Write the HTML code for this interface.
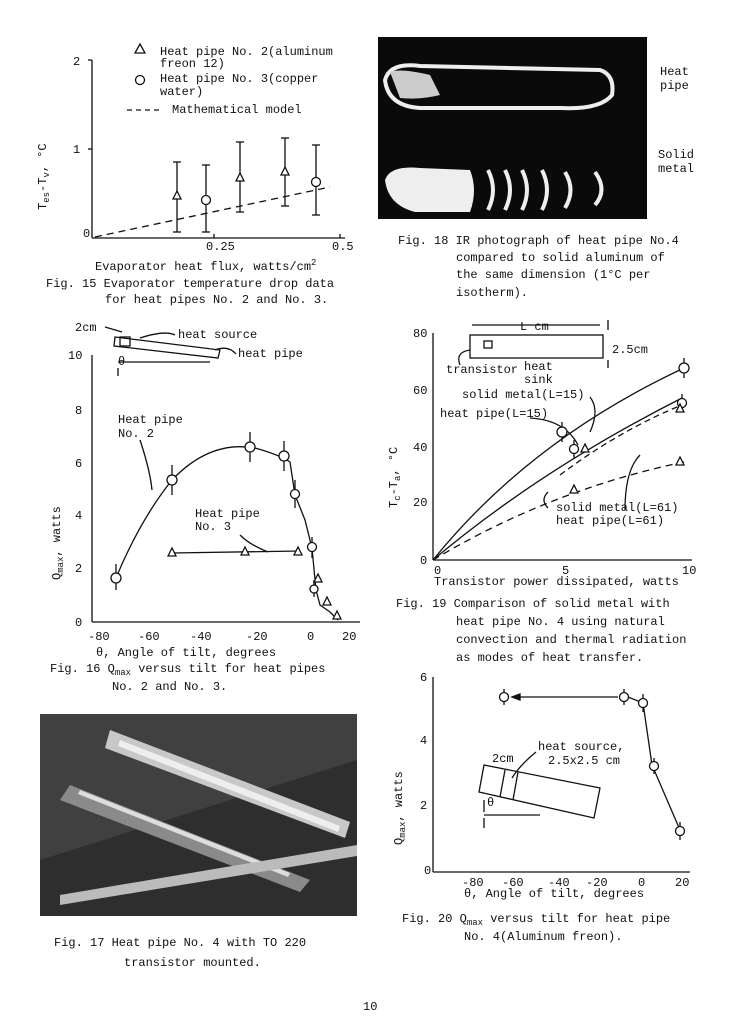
<!DOCTYPE html>
<html><head><meta charset="utf-8"><style>
html,body{margin:0;padding:0;background:#fff;}
svg{display:block}
text{font-family:"Liberation Mono",monospace;font-size:12px;fill:#111}
.s{font-size:9px}
</style></head><body>
<svg width="734" height="1028" viewBox="0 0 734 1028" xmlns="http://www.w3.org/2000/svg" stroke="#111" fill="none" stroke-width="1.3">
<!-- ===== Fig 15 ===== -->
<g>
<line x1="92" y1="60" x2="92" y2="238"/><line x1="92" y1="238" x2="345" y2="238"/>
<line x1="88" y1="60" x2="92" y2="60"/><line x1="88" y1="149" x2="92" y2="149"/>
<line x1="214" y1="238" x2="214" y2="234"/><line x1="340" y1="238" x2="340" y2="234"/>
<g stroke="none"><text x="73" y="65">2</text><text x="73" y="153">1</text><text x="83" y="237">0</text>
<text x="206" y="250">0.25</text><text x="332" y="250">0.5</text>
<text x="46" y="210" transform="rotate(-90 46 210)">T<tspan class="s" dy="3">es</tspan><tspan dy="-3">-T</tspan><tspan class="s" dy="3">v</tspan><tspan dy="-3">, °C</tspan></text>
<text x="95" y="270">Evaporator heat flux, watts/cm<tspan class="s" dy="-5">2</tspan></text>
<text x="46" y="287">Fig. 15 Evaporator temperature drop data</text>
<text x="105" y="303">for heat pipes No. 2 and No. 3.</text>
<text x="160" y="55">Heat pipe No. 2(aluminum</text><text x="160" y="67">freon 12)</text>
<text x="160" y="82">Heat pipe No. 3(copper</text><text x="160" y="95">water)</text>
<text x="172" y="113">Mathematical model</text></g>
<polygon points="140,44 135,53 145,53"/><circle cx="140" cy="80" r="4.5"/>
<line x1="127" y1="110" x2="160" y2="110" stroke-dasharray="5,4"/>
<line x1="95" y1="237" x2="330" y2="187" stroke-dasharray="7,5"/>
<g>
<line x1="177" y1="162" x2="177" y2="232"/><line x1="173" y1="162" x2="181" y2="162"/><line x1="173" y1="232" x2="181" y2="232"/><polygon points="177,191 173,199 181,199" fill="#fff"/>
<line x1="206" y1="165" x2="206" y2="232"/><line x1="202" y1="165" x2="210" y2="165"/><line x1="202" y1="232" x2="210" y2="232"/><circle cx="206" cy="200" r="4.5" fill="#fff"/>
<line x1="240" y1="142" x2="240" y2="212"/><line x1="236" y1="142" x2="244" y2="142"/><line x1="236" y1="212" x2="244" y2="212"/><polygon points="240,173 236,181 244,181" fill="#fff"/>
<line x1="285" y1="138" x2="285" y2="206"/><line x1="281" y1="138" x2="289" y2="138"/><line x1="281" y1="206" x2="289" y2="206"/><polygon points="285,167 281,175 289,175" fill="#fff"/>
<line x1="316" y1="145" x2="316" y2="215"/><line x1="312" y1="145" x2="320" y2="145"/><line x1="312" y1="215" x2="320" y2="215"/><circle cx="316" cy="182" r="4.5" fill="#fff"/>
</g></g>

<!-- ===== Fig 18 photo ===== -->
<rect x="378" y="37" width="269" height="182" fill="#0a0a0a" stroke="none"/>
<path d="M385,80 Q390,62 420,66 L600,70 Q615,75 612,95 Q600,110 560,108 L420,108 Q388,106 385,80Z" stroke="#eee" stroke-width="4"/>
<path d="M390,72 Q400,68 430,75 L440,95 Q420,100 400,98Z" fill="#ccc" stroke="none"/>
<path d="M385,180 Q390,165 420,168 L470,170 Q478,190 470,212 L415,212 Q388,205 385,180Z" fill="#eee" stroke="none"/>
<g stroke="#eee" stroke-width="4"><path d="M488,170 Q498,190 488,210"/><path d="M505,170 Q515,190 505,210"/><path d="M522,170 Q532,190 522,210"/><path d="M542,170 Q552,190 542,210"/><path d="M565,172 Q576,190 565,208"/><path d="M595,172 Q608,190 595,205"/></g>
<g stroke="none">
<text x="660" y="75">Heat</text><text x="660" y="89">pipe</text>
<text x="658" y="158">Solid</text><text x="658" y="172">metal</text>
<text x="398" y="244">Fig. 18 IR photograph of heat pipe No.4</text>
<text x="456" y="261">compared to solid aluminum of</text>
<text x="456" y="278">the same dimension (1°C per</text>
<text x="456" y="296">isotherm).</text>
</g>

<!-- ===== Fig 16 ===== -->
<g>
<line x1="92" y1="355" x2="92" y2="622"/><line x1="92" y1="622" x2="360" y2="622"/>
<g stroke="none"><text x="68" y="359">10</text><text x="75" y="414">8</text><text x="75" y="467">6</text><text x="75" y="519">4</text><text x="75" y="572">2</text><text x="75" y="626">0</text>
<text x="88" y="640">-80</text><text x="138" y="640">-60</text><text x="190" y="640">-40</text><text x="246" y="640">-20</text><text x="307" y="640">0</text><text x="342" y="640">20</text>
<text x="96" y="656">θ, Angle of tilt, degrees</text>
<text x="50" y="672">Fig. 16 Q<tspan class="s" dy="3">max</tspan><tspan dy="-3"> versus tilt for heat pipes</tspan></text>
<text x="112" y="690">No. 2 and No. 3.</text>
<text x="60" y="580" transform="rotate(-90 60 580)">Q<tspan class="s" dy="3">max</tspan><tspan dy="-3">, watts</tspan></text>
<text x="118" y="423">Heat pipe</text><text x="118" y="437">No. 2</text>
<text x="195" y="517">Heat pipe</text><text x="195" y="530">No. 3</text>
<text x="75" y="331">2cm</text><text x="178" y="338">heat source</text><text x="238" y="357">heat pipe</text><text x="118" y="365">θ</text>
</g>
<polygon points="115,337 220,350 218,358 114,346"/><rect x="120" y="337" width="10" height="9"/>
<line x1="118" y1="362" x2="210" y2="362"/><line x1="118" y1="368" x2="118" y2="376"/>
<path d="M105,327 L122,332"/><path d="M175,335 Q165,330 140,338"/><path d="M236,354 Q228,345 215,350"/>
<path d="M140,440 Q150,470 152,490"/><path d="M240,535 Q250,545 268,552"/>
<path d="M116,578 Q140,520 172,480 Q210,440 255,448 Q280,455 290,462 L295,495 L305,520 L312,548 L316,590 L320,605 L330,612 L338,620"/>
<line x1="171" y1="553" x2="300" y2="551"/>
<g fill="#fff">
<line x1="116" y1="564" x2="116" y2="590"/><circle cx="116" cy="578" r="5"/>
<line x1="172" y1="465" x2="172" y2="495"/><circle cx="172" cy="480" r="5"/>
<line x1="250" y1="432" x2="250" y2="462"/><circle cx="250" cy="447" r="5"/>
<line x1="284" y1="441" x2="284" y2="471"/><circle cx="284" cy="456" r="5"/>
<line x1="295" y1="480" x2="295" y2="508"/><circle cx="295" cy="494" r="4.5"/>
<line x1="312" y1="537" x2="312" y2="558"/><circle cx="312" cy="547" r="4.5"/>
<line x1="314" y1="580" x2="314" y2="597"/><circle cx="314" cy="589" r="4"/>
<polygon points="172,548 168,556 176,556"/><polygon points="245,547 241,555 249,555"/><polygon points="298,547 294,555 302,555"/>
<polygon points="318,574 314,582 322,582"/><polygon points="327,597 323,605 331,605"/><polygon points="337,611 333,619 341,619"/>
</g></g>

<!-- ===== Fig 19 ===== -->
<g>
<line x1="433" y1="333" x2="433" y2="560"/><line x1="433" y1="560" x2="692" y2="560"/>
<g stroke="none"><text x="413" y="337">80</text><text x="413" y="394">60</text><text x="413" y="451">40</text><text x="413" y="506">20</text><text x="420" y="564">0</text>
<text x="434" y="574">0</text><text x="562" y="574">5</text><text x="682" y="574">10</text>
<text x="434" y="585">Transistor power dissipated, watts</text>
<text x="397" y="508" transform="rotate(-90 397 508)">T<tspan class="s" dy="3">c</tspan><tspan dy="-3">-T</tspan><tspan class="s" dy="3">a</tspan><tspan dy="-3">, °C</tspan></text>
<text x="396" y="607">Fig. 19 Comparison of solid metal with</text>
<text x="456" y="625">heat pipe No. 4 using natural</text>
<text x="456" y="643">convection and thermal radiation</text>
<text x="456" y="661">as modes of heat transfer.</text>
<text x="520" y="330">L cm</text><text x="612" y="353">2.5cm</text>
<text x="446" y="373">transistor</text><text x="524" y="370">heat</text><text x="524" y="383">sink</text>
<text x="462" y="398">solid metal(L=15)</text><text x="440" y="417">heat pipe(L=15)</text>
<text x="556" y="511">solid metal(L=61)</text><text x="556" y="524">heat pipe(L=61)</text></g>
<rect x="470" y="335" width="133" height="23"/><rect x="484" y="341" width="8" height="7"/>
<line x1="472" y1="325" x2="600" y2="325"/><line x1="608" y1="330" x2="608" y2="320"/><line x1="608" y1="360" x2="608" y2="368"/>
<path d="M460,365 Q455,352 470,350"/>
<path d="M433,560 Q530,440 684,368"/><path d="M433,560 Q540,470 682,398"/>
<path d="M433,560 Q550,490 684,462" stroke-dasharray="7,5"/><path d="M560,475 Q620,430 682,405" stroke-dasharray="6,4"/>
<path d="M590,397 Q600,410 590,432"/><path d="M530,418 Q565,420 578,445"/><path d="M548,508 Q540,500 548,492"/><path d="M640,455 Q625,470 625,510"/>
<g fill="#fff">
<line x1="562" y1="422" x2="562" y2="442"/><circle cx="562" cy="432" r="5"/>
<line x1="684" y1="358" x2="684" y2="378"/><circle cx="684" cy="368" r="5"/>
<line x1="574" y1="440" x2="574" y2="458"/><circle cx="574" cy="449" r="4.5"/>
<line x1="682" y1="394" x2="682" y2="412"/><circle cx="682" cy="403" r="4.5"/>
<polygon points="585,444 581,452 589,452"/><polygon points="680,404 676,412 684,412"/>
<polygon points="574,485 570,493 578,493"/><polygon points="680,457 676,465 684,465"/>
</g></g>

<!-- ===== Fig 17 photo ===== -->
<rect x="40" y="714" width="317" height="202" fill="#2e2e2e" stroke="none"/>
<polygon points="40,714 357,714 357,760 40,860" fill="#404040" stroke="none"/>
<polygon points="110,730 350,822 345,838 105,748" fill="#c8c8c8" stroke="none"/>
<polygon points="120,740 340,826 338,832 118,746" fill="#eee" stroke="none"/>
<polygon points="70,785 310,880 300,892 60,800" fill="#8a8a8a" stroke="none"/>
<polygon points="80,790 290,873 288,877 78,794" fill="#ddd" stroke="none"/>
<polygon points="60,895 357,845 357,856 60,905" fill="#bbb" stroke="none"/>
<g stroke="none"><text x="54" y="946">Fig. 17  Heat pipe No. 4 with TO 220</text>
<text x="124" y="966">transistor mounted.</text></g>

<!-- ===== Fig 20 ===== -->
<g>
<line x1="433" y1="677" x2="433" y2="872"/><line x1="433" y1="872" x2="690" y2="872"/>
<g stroke="none"><text x="420" y="681">6</text><text x="420" y="744">4</text><text x="420" y="809">2</text><text x="424" y="874">0</text>
<text x="462" y="886">-80</text><text x="502" y="886">-60</text><text x="548" y="886">-40</text><text x="586" y="886">-20</text><text x="638" y="886">0</text><text x="675" y="886">20</text>
<text x="464" y="897">θ, Angle of tilt, degrees</text>
<text x="402" y="922">Fig. 20 Q<tspan class="s" dy="3">max</tspan><tspan dy="-3"> versus tilt for heat pipe</tspan></text>
<text x="464" y="940">No. 4(Aluminum freon).</text>
<text x="402" y="845" transform="rotate(-90 402 845)">Q<tspan class="s" dy="3">max</tspan><tspan dy="-3">, watts</tspan></text>
<text x="492" y="762">2cm</text><text x="538" y="750">heat source,</text><text x="548" y="764">2.5x2.5 cm</text><text x="487" y="806">θ</text></g>
<polygon points="484,765 600,788 594,818 479,792"/><line x1="505" y1="770" x2="500" y2="797"/><line x1="518" y1="772" x2="513" y2="800"/>
<line x1="484" y1="815" x2="540" y2="815"/><line x1="484" y1="812" x2="484" y2="800"/><line x1="484" y1="818" x2="484" y2="828"/>
<path d="M536,752 Q520,765 512,778"/>
<line x1="512" y1="697" x2="618" y2="697"/><polygon points="512,697 520,694 520,700" fill="#111"/>
<path d="M628,697 L643,703 L652,765 L680,830"/>
<g fill="#fff">
<line x1="504" y1="689" x2="504" y2="705"/><circle cx="504" cy="697" r="4.5"/>
<line x1="624" y1="689" x2="624" y2="705"/><circle cx="624" cy="697" r="4.5"/>
<line x1="643" y1="694" x2="643" y2="712"/><circle cx="643" cy="703" r="4.5"/>
<line x1="654" y1="758" x2="654" y2="774"/><circle cx="654" cy="766" r="4.5"/>
<line x1="680" y1="822" x2="680" y2="840"/><circle cx="680" cy="831" r="4.5"/>
</g></g>

<text x="363" y="1010" stroke="none">10</text>
</svg>
</body></html>
